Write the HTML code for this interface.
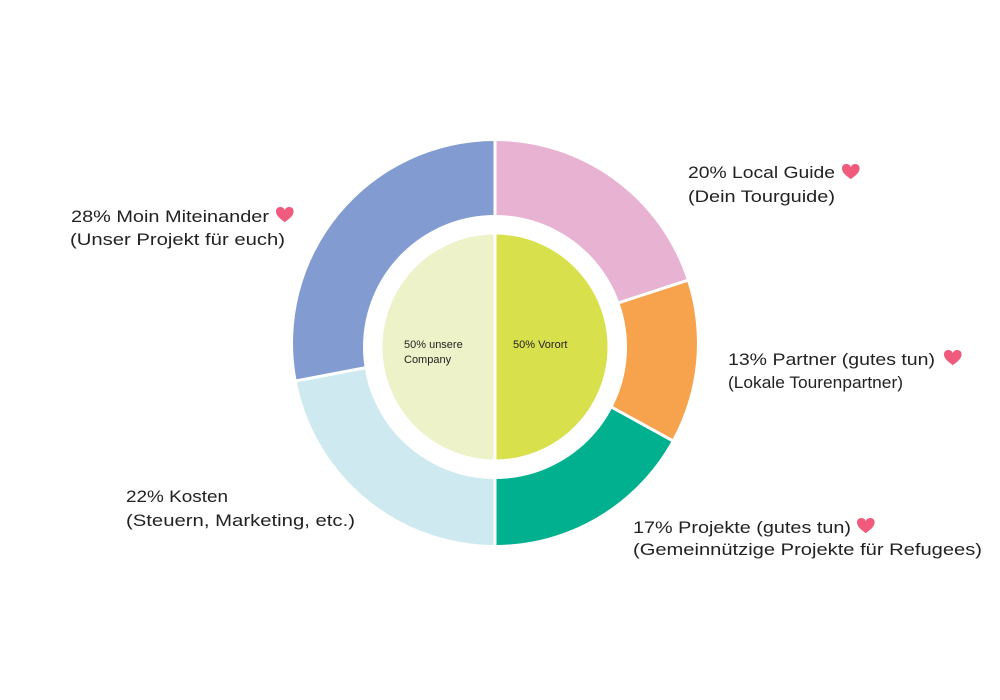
<!DOCTYPE html>
<html><head><meta charset="utf-8"><style>html,body{margin:0;padding:0;background:#fff;width:1000px;height:700px;overflow:hidden}</style></head>
<body>
<svg width="1000" height="700" viewBox="0 0 1000 700" xmlns="http://www.w3.org/2000/svg">
<defs><path id="h" d="M0,3 C0,-2 7,-2 8,2 C9,-2 16,-2 16,3 C16,8 10,11 8,13 C6,11 0,8 0,3 Z"/></defs>
<path d="M495,343 L495,141 A202,202 0 0 1 687.1,280.6 Z" fill="#e8b3d3"/>
<path d="M495,343 L687.1,280.6 A202,202 0 0 1 672,440.3 Z" fill="#f7a24d"/>
<path d="M495,343 L672,440.3 A202,202 0 0 1 495,545 Z" fill="#00b08f"/>
<path d="M495,343 L495,545 A202,202 0 0 1 296.6,380.9 Z" fill="#ceeaf0"/>
<path d="M495,343 L296.6,380.9 A202,202 0 0 1 495,141 Z" fill="#829bd0"/>
<g stroke="#fff" stroke-width="3">
<line x1="495" y1="343" x2="495" y2="138"/>
<line x1="495" y1="343" x2="690" y2="279.6"/>
<line x1="495" y1="343" x2="675" y2="442"/>
<line x1="495" y1="343" x2="495" y2="548"/>
<line x1="495" y1="343" x2="293" y2="381.5"/>
</g>
<circle cx="495" cy="347" r="132" fill="#fff"/>
<path d="M495,234.5 A112.5,112.5 0 0 0 495,459.5 Z" fill="#edf2c8"/>
<path d="M495,234.5 A112.5,112.5 0 0 1 495,459.5 Z" fill="#d8e04c"/>
<line x1="495" y1="232" x2="495" y2="462" stroke="#fff" stroke-width="3"/>
<g font-family="Liberation Sans, sans-serif" font-size="11" fill="#222">
<text x="404" y="348">50% unsere</text>
<text x="404" y="363">Company</text>
<text x="513" y="348">50% Vorort</text>
</g>
<g font-family="Liberation Sans, sans-serif" font-size="16.5" fill="#222" lengthAdjust="spacingAndGlyphs">
<text x="688" y="178" textLength="147" lengthAdjust="spacingAndGlyphs">20% Local Guide</text>
<text x="688" y="202" textLength="147" lengthAdjust="spacingAndGlyphs">(Dein Tourguide)</text>
<text x="71" y="222" textLength="198" lengthAdjust="spacingAndGlyphs">28% Moin Miteinander</text>
<text x="70" y="245" textLength="215" lengthAdjust="spacingAndGlyphs">(Unser Projekt für euch)</text>
<text x="728" y="365" textLength="207" lengthAdjust="spacingAndGlyphs">13% Partner (gutes tun)</text>
<text x="728" y="388" textLength="175" lengthAdjust="spacingAndGlyphs">(Lokale Tourenpartner)</text>
<text x="126" y="502" textLength="102" lengthAdjust="spacingAndGlyphs">22% Kosten</text>
<text x="126" y="526" textLength="229" lengthAdjust="spacingAndGlyphs">(Steuern, Marketing, etc.)</text>
<text x="633" y="533" textLength="218" lengthAdjust="spacingAndGlyphs">17% Projekte (gutes tun)</text>
<text x="633" y="555" textLength="349" lengthAdjust="spacingAndGlyphs">(Gemeinnützige Projekte für Refugees)</text>
</g>
<g fill="#ef5a7d">
<use href="#h" transform="translate(842,165) scale(1.1)"/>
<use href="#h" transform="translate(276,208) scale(1.1)"/>
<use href="#h" transform="translate(944,351) scale(1.1)"/>
<use href="#h" transform="translate(857,519) scale(1.1)"/>
</g>
</svg>
</body></html>
